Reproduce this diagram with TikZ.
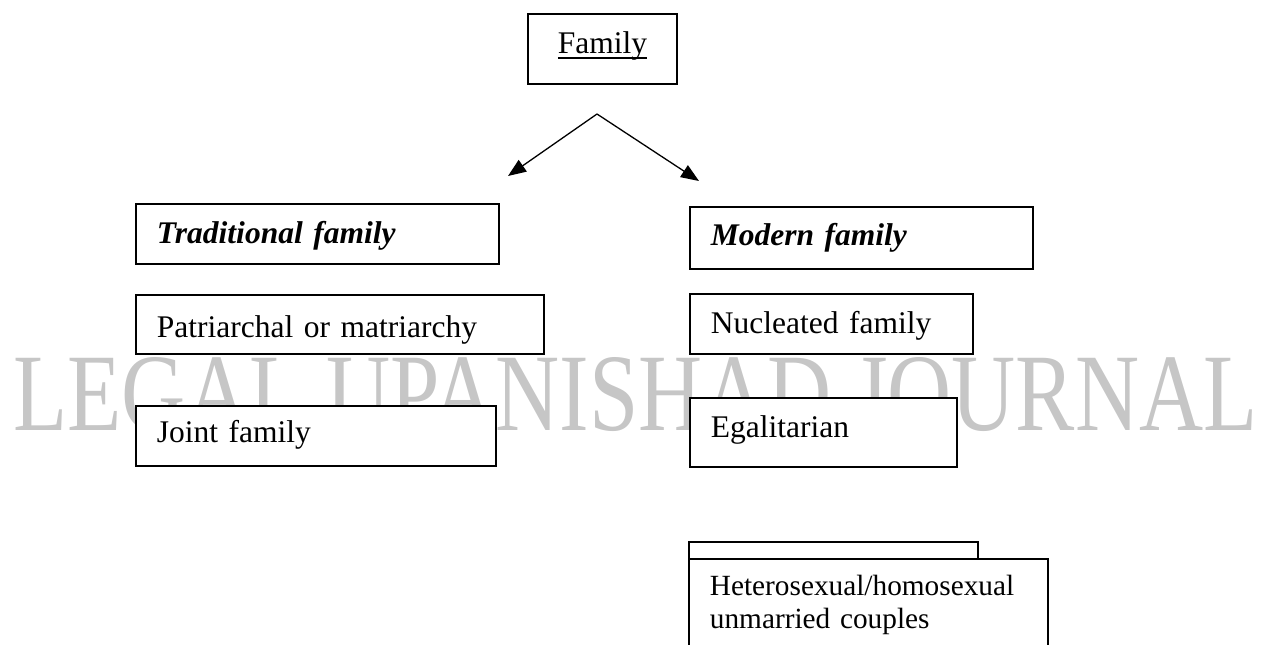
\documentclass[tikz,border=0pt]{standalone}
\usepackage{fontspec}
\setmainfont{Liberation Serif}
\usetikzlibrary{arrows.meta}
\definecolor{wmgrey}{HTML}{C6C6C6}
\newcommand\ulfam[1]{\leavevmode\setbox0\hbox{#1}\rlap{\rule[-5pt]{\wd0}{2.4pt}}\box0}
\begin{document}
\begin{tikzpicture}[x=1pt,y=-1pt,
  box/.style={draw=black, line width=1.8pt, fill=white, inner xsep=21pt, inner ysep=0pt,
    text height=40pt, text depth=20pt, align=left, anchor=north west,
    font=\fontsize{31.5}{38}\selectfont},
  head/.style={box, font=\fontsize{31.5}{38}\selectfont\bfseries\itshape},
  arr/.style={line width=1.3pt, -{Triangle[length=18pt,width=14pt]}}]
\useasboundingbox (0,0) rectangle (1262,645);
\clip (0,0) rectangle (1262,645);
\node[anchor=base west, inner sep=0pt] (wm) at (13,430)
  {\resizebox{1244pt}{73pt}{\color{wmgrey}LEGAL UPANISHAD JOURNAL}};
\node[box, align=center, text width=107pt, text depth=30pt] (family) at (527,13) {\ulfam{Family}};
\coordinate (apex) at (597,114);
\coordinate (tl) at (508,176);
\coordinate (tr) at (699,181);
\draw[arr] (apex) -- (tl);
\draw[arr] (apex) -- (tr);
\node[head, text width=321pt] (trad) at (135,203) {Traditional family};
\node[box, text width=366pt, text height=43pt, text depth=16pt] (patr) at (135,294) {Patriarchal or matriarchy};
\node[box, text width=318pt, text height=37pt, text depth=23pt] (joint) at (135,405) {Joint family};
\node[head, text width=301pt, text height=39pt, text depth=23pt] (modern) at (689,206) {Modern family};
\node[box, text width=241pt] (nucl) at (689,293) {Nucleated family};
\node[box, text width=225pt, text depth=29pt] (egal) at (689,397) {Egalitarian};
\node[box, text width=247pt, text height=0pt, text depth=40pt] (back) at (688,541) {};
\node[box, text width=317pt, text height=37pt, text depth=80pt,
  font=\fontsize{29.3}{33}\selectfont] (couples) at (688,558) {Heterosexual/homosexual\\unmarried couples};
\end{tikzpicture}
\end{document}
